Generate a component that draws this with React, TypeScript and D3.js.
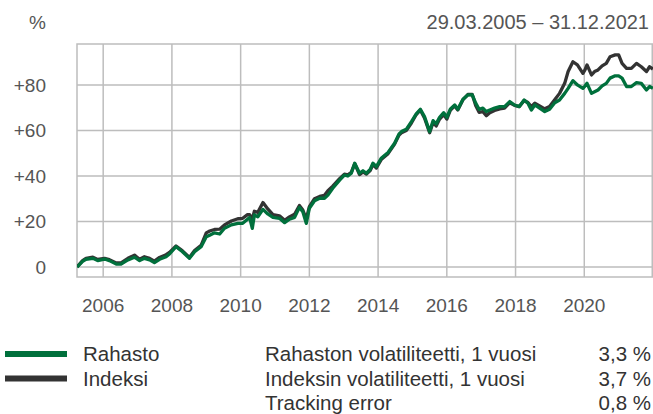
import React from "react";
import * as d3 from "d3";

const times = [
  2005.24, 2005.4, 2005.5, 2005.7, 2005.84, 2006.04, 2006.18, 2006.38, 2006.52, 2006.72, 2006.91,
  2007.06, 2007.2, 2007.35, 2007.49, 2007.64, 2007.83, 2007.93, 2008.12, 2008.3, 2008.51, 2008.66,
  2008.85, 2009.0, 2009.1, 2009.24, 2009.39, 2009.53, 2009.73, 2009.92, 2010.06, 2010.2, 2010.26,
  2010.34, 2010.4, 2010.5, 2010.65, 2010.79, 2010.94, 2011.13, 2011.28, 2011.42, 2011.57, 2011.71,
  2011.81, 2011.91, 2012.0, 2012.15, 2012.3, 2012.44, 2012.54, 2012.68, 2012.88, 2013.02, 2013.12,
  2013.22, 2013.32, 2013.46, 2013.56, 2013.66, 2013.77, 2013.85, 2013.95, 2014.09, 2014.29, 2014.48,
  2014.61, 2014.68, 2014.82, 2014.97, 2015.11, 2015.23, 2015.35, 2015.5, 2015.6, 2015.69, 2015.79,
  2015.91, 2016.0, 2016.1, 2016.23, 2016.32, 2016.47, 2016.61, 2016.74, 2016.84, 2016.94, 2017.05,
  2017.15, 2017.25, 2017.39, 2017.54, 2017.68, 2017.83, 2017.97, 2018.11, 2018.25, 2018.36, 2018.46,
  2018.56, 2018.7, 2018.85, 2018.99, 2019.14, 2019.28, 2019.43, 2019.53, 2019.67, 2019.8, 2019.96,
  2020.02, 2020.08, 2020.21, 2020.3, 2020.4, 2020.52, 2020.64, 2020.75, 2020.9, 2021.0, 2021.1,
  2021.23, 2021.37, 2021.52, 2021.66, 2021.81, 2021.9, 2021.997,
];

const rahasto = [
  0, 2.5, 3.4, 3.8, 2.8, 3.5, 2.8, 1.3, 1.3, 3.1, 4.3,
  2.8, 3.8, 3.1, 1.9, 3.4, 4.5, 5.7, 8.9, 6.8, 3.8, 6.7,
  8.9, 13.3, 14, 15, 14.5, 17, 18.5, 19.2, 19.2, 21, 21.8,
  17, 22.9, 22.1, 25.3, 23.3, 21.8, 21.4, 19.5, 21, 21.8, 26.2,
  24.3, 19.2, 25.8, 29.1, 30.2, 30.2, 31.6, 34.6, 38.2, 40.4, 40,
  41.2, 45.6, 41.2, 42.3, 41.2, 42.9, 45.6, 44.1, 47.8, 50.3, 54.4,
  58.5, 59.5, 60.5, 63.9, 67.3, 69.3, 66.1, 59.5, 64.3, 62.9, 65.8,
  67.8, 65.8, 69.3, 71.2, 69.3, 73.7, 75.6, 75.6, 72, 69.3, 69.8,
  68.3, 69, 69.8, 70.5, 70.5, 72.7, 71.2, 70.5, 73.4, 72, 69,
  71.2, 69.8, 68.3, 69.3, 72.2, 73.4, 76.3, 78.5, 81.9, 80, 78.5,
  79.5, 80.7, 76.3, 77, 77.8, 79.6, 80.7, 83, 84, 84, 83,
  79.3, 79.3, 81, 80.7, 77.8, 79.3, 78.5,
];

const indeksi = [
  0, 2.8, 3.8, 4.3, 3.3, 3.8, 3.2, 1.8, 1.8, 3.8, 5.2,
  3.4, 4.5, 3.8, 2.6, 4.2, 5.4, 6.4, 9.2, 7.2, 4.2, 7.2,
  9.5, 15.0, 15.8, 16.5, 16.6, 18.5, 20.2, 21.2, 21.4, 23, 23,
  21, 24.5, 24, 28.3, 25.5, 23, 22.5, 20.5, 22, 23.2, 27,
  25, 21, 26.5, 30, 31, 31.5, 33.5, 35.5, 38.8, 40.8, 40.5,
  41.6, 45.4, 40.6, 41.8, 40.8, 42.4, 45, 43.5, 47.2, 49.8, 54,
  58, 59, 60, 63.3, 67, 69, 65.5, 59, 63.5, 62, 65,
  67, 65, 68.8, 70.8, 69, 73.5, 75.8, 75.8, 71, 68, 68.3,
  66.5, 67.8, 68.8, 69.5, 69.8, 72.2, 71, 70.5, 73.2, 72.3, 70.5,
  72, 70.8, 69.5, 70.5, 73.5, 76.3, 80.7, 85.9, 90.2, 88.8, 85.1,
  86.6, 88.8, 84.4, 85.9, 86.6, 88.4, 89.5, 92.4, 93.2, 93.2, 89.5,
  87.3, 87.3, 89.5, 88, 85.9, 88, 87,
];

const xTickYears = [2006, 2008, 2010, 2012, 2014, 2016, 2018, 2020];
const yTickValues = [0, 20, 40, 60, 80];
const yTickLabels = ["0", "+20", "+40", "+60", "+80"];
const seriesNames = ["Rahasto", "Indeksi"];
const seriesColors = ["#00703c", "#333333"];
const statLabels = [
  "Rahaston volatiliteetti, 1 vuosi",
  "Indeksin volatiliteetti, 1 vuosi",
  "Tracking error",
];
const statValues = ["3,3 %", "3,7 %", "0,8 %"];
const periodLabel = "29.03.2005 – 31.12.2021";

const FONT = "'Liberation Sans', Arial, Helvetica, sans-serif";

export default function App() {
  const W = 653;
  const H = 414;
  const left = 77;
  const right = 653;
  const top = 44;
  const bottom = 277;

  const x = d3.scaleLinear().domain([2005.238, 2022.0]).range([left, right]);
  const y = d3.scaleLinear().domain([-4.4, 98]).range([bottom, top]);

  const pts = times.map((t, i) => ({ t, r: rahasto[i], k: indeksi[i] }));
  const lineR = d3
    .line<any>()
    .x((d) => x(d.t))
    .y((d) => y(d.r));
  const lineK = d3
    .line<any>()
    .x((d) => x(d.t))
    .y((d) => y(d.k));

  const grid = "#bdbdbd";
  const tickColor = "#555555";
  const legendRows = [361, 385.5, 410];

  return (
    <svg
      width={W}
      height={H}
      style={{ position: "absolute", left: 0, top: 0, display: "block" }}
      fontFamily={FONT}
    >
      <defs>
        <clipPath id="plotclip">
          <rect x={left} y={top} width={right - left} height={bottom - top} />
        </clipPath>
      </defs>
      <rect x={0} y={0} width={W} height={H} fill="#ffffff" />

      {/* grid */}
      {yTickValues.map((v) => (
        <line key={"hy" + v} x1={left} x2={right} y1={y(v)} y2={y(v)} stroke={grid} strokeWidth={1.5} />
      ))}
      {xTickYears.map((yr) => (
        <line key={"vx" + yr} x1={x(yr)} x2={x(yr)} y1={top} y2={bottom} stroke={grid} strokeWidth={1.5} />
      ))}
      <rect
        x={left}
        y={top}
        width={right - left - 0.75}
        height={bottom - top}
        fill="none"
        stroke={grid}
        strokeWidth={1.5}
      />

      {/* lines */}
      <g clipPath="url(#plotclip)">
        <path d={lineK(pts) || ""} fill="none" stroke={seriesColors[1]} strokeWidth={3.3} strokeLinejoin="round" />
        <path d={lineR(pts) || ""} fill="none" stroke={seriesColors[0]} strokeWidth={3.3} strokeLinejoin="round" />
      </g>

      {/* y tick labels */}
      {yTickValues.map((v, i) => (
        <text key={"yl" + v} x={46} y={y(v) + 7} textAnchor="end" fontSize={19} fill={tickColor}>
          {yTickLabels[i]}
        </text>
      ))}
      <text x={46} y={29} textAnchor="end" fontSize={19} fill={tickColor}>
        %
      </text>
      <text x={649} y={29} textAnchor="end" fontSize={20} fill={tickColor}>
        {periodLabel}
      </text>

      {/* x tick labels */}
      {xTickYears.map((yr) => (
        <text key={"xl" + yr} x={x(yr)} y={312} textAnchor="middle" fontSize={19} fill={tickColor}>
          {yr}
        </text>
      ))}

      {/* legend */}
      {seriesNames.map((n, i) => (
        <g key={n}>
          <line
            x1={5}
            x2={67}
            y1={legendRows[i] - 7}
            y2={legendRows[i] - 7}
            stroke={seriesColors[i]}
            strokeWidth={6}
          />
          <text x={83} y={legendRows[i]} fontSize={20.5} fill="#333333">
            {n}
          </text>
        </g>
      ))}
      {statLabels.map((s, i) => (
        <g key={s}>
          <text x={265} y={legendRows[i]} fontSize={20.5} fill="#333333">
            {s}
          </text>
          <text x={651} y={legendRows[i]} textAnchor="end" fontSize={20.5} fill="#333333">
            {statValues[i]}
          </text>
        </g>
      ))}
    </svg>
  );
}
